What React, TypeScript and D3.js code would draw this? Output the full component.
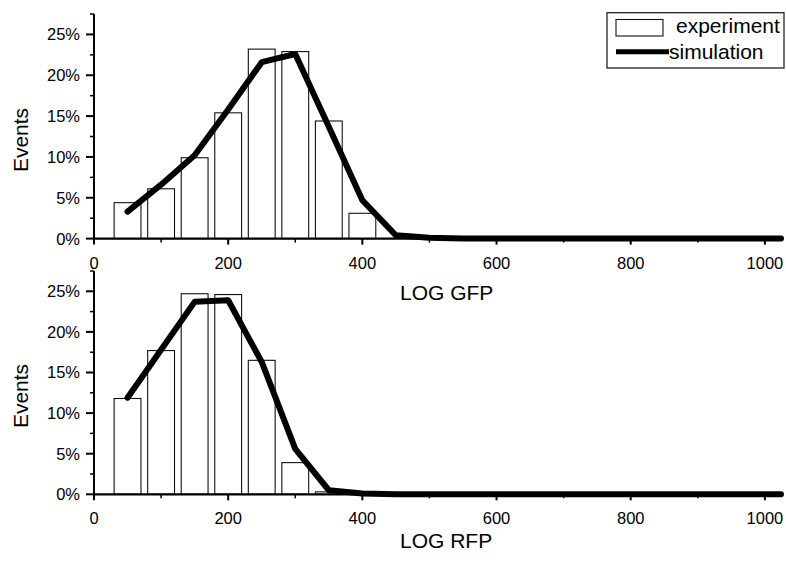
import React from "react";
import * as d3 from "d3";

const binCenters = [50, 100, 150, 200, 250, 300, 350, 400];
const expGFP = [4.4, 6.1, 9.9, 15.4, 23.2, 22.9, 14.4, 3.1];
const binCentersRFP = [50, 100, 150, 200, 250, 300, 350];
const expRFP = [11.8, 17.7, 24.7, 24.6, 16.5, 3.9, 0.3];

const simX = [50, 100, 150, 200, 250, 300, 350, 400, 450, 500, 550, 600, 650, 700, 750, 800, 850, 900, 950, 1000, 1024];
const simGFP = [3.3, 6.6, 10.2, 15.8, 21.6, 22.6, 13.7, 4.7, 0.4, 0.1, 0, 0, 0, 0, 0, 0, 0, 0, 0, 0, 0];
const simRFP = [11.9, 17.8, 23.7, 23.9, 16.3, 5.6, 0.5, 0.1, 0, 0, 0, 0, 0, 0, 0, 0, 0, 0, 0, 0, 0];

const xMajor = [0, 200, 400, 600, 800, 1000];
const xMinor = [100, 300, 500, 700, 900];
const yMajor = [0, 5, 10, 15, 20, 25];
const yMinor = [2.5, 7.5, 12.5, 17.5, 22.5, 27.5];

const FONT = "'Liberation Sans', Arial, Helvetica, sans-serif";
const BIN_W = 40;

const x = d3.scaleLinear().domain([0, 1024]).range([94, 781]);

function Panel({ y0, y1, centers, exp, sim, title, titleY, eventsY }: any) {
  const y = d3.scaleLinear().domain([0, 27.5]).range([y0, y1]);
  const line = d3
    .line<number>()
    .x((_, i) => x(simX[i]))
    .y((d) => y(d));
  return (
    <g>
      {centers.map((c: number, i: number) => (
        <rect
          key={i}
          x={x(c - BIN_W / 2)}
          y={y(exp[i])}
          width={x(c + BIN_W / 2) - x(c - BIN_W / 2)}
          height={y0 - y(exp[i])}
          fill="#fff"
          stroke="#111"
          strokeWidth={1.1}
        />
      ))}
      <path d={line(sim) || ""} fill="none" stroke="#000" strokeWidth={6} strokeLinejoin="round" strokeLinecap="round" />
      {/* y axis */}
      <line x1={x(0)} x2={x(0)} y1={y(27.5)} y2={y0} stroke="#000" strokeWidth={2} />
      {yMajor.map((v) => (
        <g key={"ym" + v}>
          <line x1={x(0) - 8} x2={x(0)} y1={y(v)} y2={y(v)} stroke="#000" strokeWidth={2} />
          <text x={80} y={y(v)} dy="0.36em" textAnchor="end" fontSize={16.5} fontFamily={FONT} fill="#000">
            {v + "%"}
          </text>
        </g>
      ))}
      {yMinor.map((v) => (
        <line key={"yn" + v} x1={x(0) - 4} x2={x(0)} y1={y(v)} y2={y(v)} stroke="#000" strokeWidth={1.5} />
      ))}
      {/* x axis */}
      <line x1={x(0) - 1} x2={x(1024)} y1={y0} y2={y0} stroke="#000" strokeWidth={2.2} />
      {xMajor.map((v) => (
        <g key={"xm" + v}>
          <line x1={x(v)} x2={x(v)} y1={y0} y2={y0 + 6} stroke="#000" strokeWidth={2} />
          <text x={x(v)} y={y0 + 30} textAnchor="middle" fontSize={16.5} fontFamily={FONT} fill="#000">
            {v}
          </text>
        </g>
      ))}
      {xMinor.map((v) => (
        <line key={"xn" + v} x1={x(v)} x2={x(v)} y1={y0} y2={y0 + 4} stroke="#000" strokeWidth={1.5} />
      ))}
      <text x={400} y={titleY} fontSize={21} fontFamily={FONT} fill="#000">
        {title}
      </text>
      <text
        transform={`translate(20,${eventsY}) rotate(-90)`}
        textAnchor="middle"
        dy="0.36em"
        fontSize={21}
        fontFamily={FONT}
        fill="#000"
      >
        Events
      </text>
    </g>
  );
}

export default function App() {
  return (
    <svg
      width={786}
      height={562}
      style={{ position: "absolute", left: 0, top: 0, display: "block", background: "#fff" }}
    >
      <rect width={786} height={562} fill="#fff" />
      <Panel y0={238.6} y1={14} centers={binCenters} exp={expGFP} sim={simGFP} title="LOG GFP" titleY={300} eventsY={140} />
      <Panel y0={494.3} y1={271} centers={binCentersRFP} exp={expRFP} sim={simRFP} title="LOG RFP" titleY={548} eventsY={396} />
      {/* legend */}
      <g>
        <rect x={607} y={12.7} width={177} height={55.3} fill="#fff" stroke="#111" strokeWidth={1.2} />
        <rect x={616} y={19.5} width={47} height={16.5} fill="#fff" stroke="#111" strokeWidth={1.1} />
        <text x={676} y={33.3} fontSize={21} fontFamily={FONT} fill="#000">
          experiment
        </text>
        <line x1={616} x2={669} y1={51.7} y2={51.7} stroke="#000" strokeWidth={5} />
        <text x={669} y={58.5} fontSize={21} fontFamily={FONT} fill="#000">
          simulation
        </text>
      </g>
    </svg>
  );
}
